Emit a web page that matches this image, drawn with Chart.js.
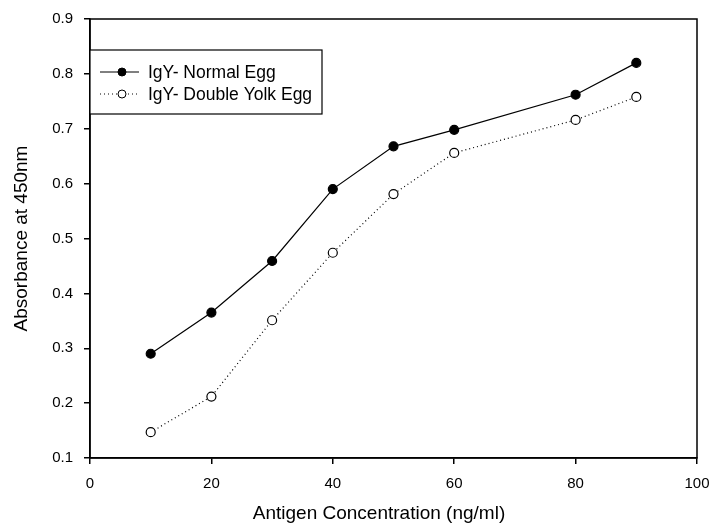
<!DOCTYPE html>
<html>
<head>
<meta charset="utf-8">
<script src="https://cdn.jsdelivr.net/npm/chart.js@4/dist/chart.umd.min.js"></script>
<style>
  html, body { margin: 0; padding: 0; background: #fff; }
  #wrap { width: 709px; height: 525px; }
</style>
</head>
<body>
<div id="wrap"><canvas id="absChart" width="709" height="525"></canvas></div>
<script>
// Data
const concentrations = [10, 20, 30, 40, 50, 60, 80, 90];
const normalEgg = [0.29, 0.365, 0.459, 0.59, 0.668, 0.698, 0.762, 0.82];
const doubleYolkEgg = [0.147, 0.212, 0.351, 0.474, 0.581, 0.656, 0.716, 0.758];
const seriesLabels = ["IgY- Normal Egg", "IgY- Double Yolk Egg"];
const xTicks = [0, 20, 40, 60, 80, 100];
const yTicks = [0.1, 0.2, 0.3, 0.4, 0.5, 0.6, 0.7, 0.8, 0.9];
const xTitle = "Antigen Concentration (ng/ml)";
const yTitle = "Absorbance at 450nm";

const font = "'Liberation Sans', Arial, sans-serif";

// frame around plot area, legend box inside, x title (sits a bit left of centre in the original)
const framePlugin = {
  id: "frame",
  afterDraw(chart) {
    const { ctx, chartArea: a } = chart;
    ctx.save();
    ctx.strokeStyle = "#000";
    ctx.lineWidth = 1.5;
    ctx.strokeRect(a.left, a.top, a.right - a.left, a.bottom - a.top);

    ctx.fillStyle = "#000";
    ctx.font = "19px " + font;
    ctx.textAlign = "center";
    ctx.textBaseline = "middle";
    ctx.fillText(xTitle, 379, 514);
    ctx.textAlign = "left";

    // legend
    const bx = a.left, by = 50, bw = 232, bh = 64;
    ctx.fillStyle = "#fff";
    ctx.fillRect(bx, by, bw, bh);
    ctx.lineWidth = 1.2;
    ctx.strokeRect(bx, by, bw, bh);

    const rows = [
      { y: 72, dash: [], fill: "#000" },
      { y: 94, dash: [1, 3], fill: "#fff" },
    ];
    rows.forEach((r, i) => {
      ctx.setLineDash(r.dash);
      ctx.lineWidth = 1;
      ctx.beginPath();
      ctx.moveTo(bx + 10, r.y);
      ctx.lineTo(bx + 49, r.y);
      ctx.stroke();
      ctx.setLineDash([]);
      ctx.beginPath();
      ctx.arc(bx + 32, r.y, 4, 0, Math.PI * 2);
      ctx.fillStyle = r.fill;
      ctx.fill();
      ctx.stroke();
      ctx.fillStyle = "#000";
      ctx.font = "17.5px " + font;
      ctx.textBaseline = "middle";
      ctx.fillText(seriesLabels[i], bx + 58, r.y + 1);
    });
    ctx.restore();
  },
};

const ctx = document.getElementById("absChart").getContext("2d");
new Chart(ctx, {
  type: "line",
  data: {
    datasets: [
      {
        label: seriesLabels[0],
        data: concentrations.map((x, i) => ({ x, y: normalEgg[i] })),
        borderColor: "#000",
        borderWidth: 1.2,
        pointRadius: 4.5,
        pointBackgroundColor: "#000",
        pointBorderColor: "#000",
        tension: 0,
      },
      {
        label: seriesLabels[1],
        data: concentrations.map((x, i) => ({ x, y: doubleYolkEgg[i] })),
        borderColor: "#000",
        borderWidth: 1.2,
        borderDash: [1, 3],
        pointRadius: 4.5,
        pointBorderWidth: 1.2,
        pointBackgroundColor: "#fff",
        pointBorderColor: "#000",
        tension: 0,
      },
    ],
  },
  options: {
    responsive: false,
    animation: false,
    layout: { padding: { top: 19, right: 12, left: 0, bottom: 0 } },
    plugins: { legend: { display: false }, tooltip: { enabled: false } },
    scales: {
      x: {
        type: "linear",
        min: 0,
        max: 100,
        afterBuildTicks: (s) => { s.ticks = xTicks.map((v) => ({ value: v })); },
        afterFit: (s) => {
          s.height = 67;
          s.paddingLeft = 0;
          s.paddingRight = 0;
        },
        grid: { drawOnChartArea: false, drawTicks: true, tickLength: 6, color: "#000", lineWidth: 1.5 },
        border: { display: true, color: "#000", width: 1.5 },
        ticks: { color: "#000", font: { family: font, size: 15 }, padding: 11, maxRotation: 0 },
        title: { display: false },
      },
      y: {
        type: "linear",
        min: 0.1,
        max: 0.9,
        afterBuildTicks: (s) => { s.ticks = yTicks.map((v) => ({ value: v })); },
        afterFit: (s) => {
          s.width = 90;
          s.paddingTop = 0;
          s.paddingBottom = 0;
        },
        grid: { drawOnChartArea: false, drawTicks: true, tickLength: 6, color: "#000", lineWidth: 1.5 },
        border: { display: true, color: "#000", width: 1.5 },
        ticks: {
          color: "#000",
          font: { family: font, size: 15 },
          padding: 11,
          callback: (v) => v.toFixed(1),
        },
        title: {
          display: true,
          text: yTitle,
          color: "#000",
          font: { family: font, size: 19 },
          padding: { top: 10, bottom: 0 },
        },
      },
    },
  },
  plugins: [framePlugin],
});
</script>
</body>
</html>
